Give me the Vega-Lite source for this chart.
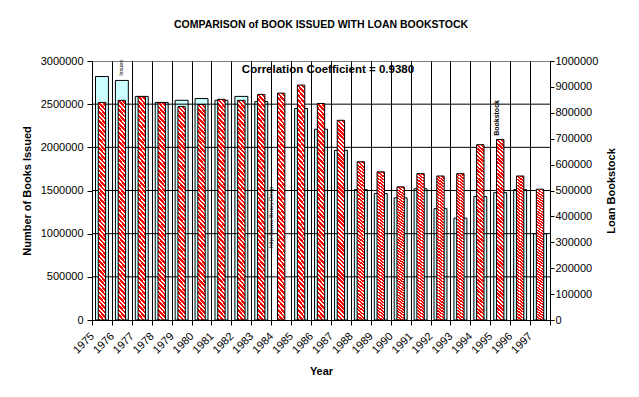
{
  "$schema": "https://vega.github.io/schema/vega-lite/v6.json",
  "width": 458,
  "height": 259,
  "autosize": {"type": "none"},
  "padding": {"left": 92, "top": 61, "right": 89, "bottom": 77},
  "background": "white",
  "title": {"text": "COMPARISON of BOOK ISSUED WITH LOAN BOOKSTOCK", "fontSize": 10.5, "fontWeight": "bold", "color": "black", "anchor": "middle", "offset": 25, "font": "Liberation Sans"},
  "config": {
    "font": "Liberation Sans",
    "view": {"stroke": "#808080"},
    "axis": {"labelFont": "Liberation Sans", "titleFont": "Liberation Sans"},
    "text": {"font": "Liberation Sans", "color": "black"}
  },
  "data": {"values": [
    {"year": 1975, "issued": 2820000, "stock": 840000},
    {"year": 1976, "issued": 2775000, "stock": 848000},
    {"year": 1977, "issued": 2590000, "stock": 863000},
    {"year": 1978, "issued": 2520000, "stock": 840000},
    {"year": 1979, "issued": 2545000, "stock": 824000},
    {"year": 1980, "issued": 2565000, "stock": 832000},
    {"year": 1981, "issued": 2545000, "stock": 852000},
    {"year": 1982, "issued": 2590000, "stock": 848000},
    {"year": 1983, "issued": 2530000, "stock": 871000},
    {"year": 1984, "issued": null, "stock": 876000},
    {"year": 1985, "issued": 2450000, "stock": 907000},
    {"year": 1986, "issued": 2210000, "stock": 836000},
    {"year": 1987, "issued": 1965000, "stock": 771000},
    {"year": 1988, "issued": 1510000, "stock": 611000},
    {"year": 1989, "issued": 1465000, "stock": 572000},
    {"year": 1990, "issued": 1415000, "stock": 514000},
    {"year": 1991, "issued": 1520000, "stock": 565000},
    {"year": 1992, "issued": 1290000, "stock": 556000},
    {"year": 1993, "issued": 1180000, "stock": 565000},
    {"year": 1994, "issued": 1430000, "stock": 677000},
    {"year": 1995, "issued": 1475000, "stock": 697000},
    {"year": 1996, "issued": 1510000, "stock": 556000},
    {"year": 1997, "issued": 1000000, "stock": 505000}
  ]},
  "layer": [
    {
      "layer": [
        {
          "mark": {"type": "bar", "fill": "#CCFFFF", "stroke": "black", "strokeWidth": 1, "width": {"band": 0.65}},
          "encoding": {
            "x": {"field": "year", "type": "ordinal", "scale": {"paddingInner": 0, "paddingOuter": 0},
              "axis": {"title": "Year", "titleFontSize": 11, "titleFontWeight": "bold", "titleColor": "black", "titlePadding": 10,
                "labelAngle": -45, "labelFontSize": 11, "labelColor": "black", "labelPadding": 5, "labelOffset": -14,
                "tickBand": "extent", "grid": true, "gridColor": "black", "gridOpacity": 1,
                "domainColor": "black", "tickColor": "black", "tickSize": 5}},
            "y": {"field": "issued", "type": "quantitative", "scale": {"domain": [0, 3000000], "nice": false},
              "axis": {"title": "Number of Books Issued", "values": [0, 500000, 1000000, 1500000, 2000000, 2500000, 3000000], "format": "d",
                "grid": false, "labelFontSize": 11, "labelColor": "black", "tickColor": "black", "domainColor": "black",
                "tickSize": 5, "labelPadding": 4, "titleFontSize": 11, "titleFontWeight": "bold", "titleColor": "black", "titlePadding": 8}}
          }
        },
        {
          "data": {"values": [{"issued": 500000}, {"issued": 1000000}, {"issued": 1500000}, {"issued": 2000000}, {"issued": 2500000}]},
          "mark": {"type": "rule", "color": "black", "strokeWidth": 1},
          "encoding": {"y": {"field": "issued", "type": "quantitative"}}
        },
        {
          "data": {"values": [{"year": 1986, "issued": 2895000, "t": "Correlation Coefficient = 0.9380"}]},
          "mark": {"type": "text", "fontSize": 11.5, "fontWeight": "bold", "align": "center", "baseline": "middle"},
          "encoding": {
            "x": {"field": "year", "type": "ordinal", "bandPosition": 0.85},
            "y": {"field": "issued", "type": "quantitative"},
            "text": {"field": "t"}
          }
        },
        {
          "data": {"values": [{"year": 1976, "issued": 2920000, "t": "Issues"}]},
          "mark": {"type": "text", "fontSize": 5.5, "angle": 270, "align": "center", "baseline": "middle"},
          "encoding": {
            "x": {"field": "year", "type": "ordinal", "bandPosition": 0.45},
            "y": {"field": "issued", "type": "quantitative"},
            "text": {"field": "t"}
          }
        },
        {
          "data": {"values": [{"year": 1983, "issued": 1190000, "t": "http://www.library.Deep"}]},
          "mark": {"type": "text", "fontSize": 6, "angle": 270, "align": "center", "baseline": "middle"},
          "encoding": {
            "x": {"field": "year", "type": "ordinal", "bandPosition": 1},
            "y": {"field": "issued", "type": "quantitative"},
            "text": {"field": "t"}
          }
        },
        {
          "data": {"values": [{"year": 1995, "issued": 2340000, "t": "Bookstock"}]},
          "mark": {"type": "text", "fontSize": 7, "fontWeight": "bold", "angle": 270, "align": "center", "baseline": "middle"},
          "encoding": {
            "x": {"field": "year", "type": "ordinal", "bandPosition": 0.34},
            "y": {"field": "issued", "type": "quantitative"},
            "text": {"field": "t"}
          }
        }
      ]
    },
    {
      "mark": {"type": "bar", "stroke": "black", "strokeWidth": 1, "width": {"band": 0.37},
        "fill": {"gradient": "linear", "x1": 0, "y1": 1, "x2": 0.0389, "y2": -0.036, "stops": [
          {"offset": 0, "color": "red"}, {"offset": 0.012, "color": "red"}, {"offset": 0.012, "color": "white"}, {"offset": 0.02, "color": "white"},
          {"offset": 0.02, "color": "red"}, {"offset": 0.032, "color": "red"}, {"offset": 0.032, "color": "white"}, {"offset": 0.04, "color": "white"},
          {"offset": 0.04, "color": "red"}, {"offset": 0.052, "color": "red"}, {"offset": 0.052, "color": "white"}, {"offset": 0.06, "color": "white"},
          {"offset": 0.06, "color": "red"}, {"offset": 0.072, "color": "red"}, {"offset": 0.072, "color": "white"}, {"offset": 0.08, "color": "white"},
          {"offset": 0.08, "color": "red"}, {"offset": 0.092, "color": "red"}, {"offset": 0.092, "color": "white"}, {"offset": 0.1, "color": "white"},
          {"offset": 0.1, "color": "red"}, {"offset": 0.112, "color": "red"}, {"offset": 0.112, "color": "white"}, {"offset": 0.12, "color": "white"},
          {"offset": 0.12, "color": "red"}, {"offset": 0.132, "color": "red"}, {"offset": 0.132, "color": "white"}, {"offset": 0.14, "color": "white"},
          {"offset": 0.14, "color": "red"}, {"offset": 0.152, "color": "red"}, {"offset": 0.152, "color": "white"}, {"offset": 0.16, "color": "white"},
          {"offset": 0.16, "color": "red"}, {"offset": 0.172, "color": "red"}, {"offset": 0.172, "color": "white"}, {"offset": 0.18, "color": "white"},
          {"offset": 0.18, "color": "red"}, {"offset": 0.192, "color": "red"}, {"offset": 0.192, "color": "white"}, {"offset": 0.2, "color": "white"},
          {"offset": 0.2, "color": "red"}, {"offset": 0.212, "color": "red"}, {"offset": 0.212, "color": "white"}, {"offset": 0.22, "color": "white"},
          {"offset": 0.22, "color": "red"}, {"offset": 0.232, "color": "red"}, {"offset": 0.232, "color": "white"}, {"offset": 0.24, "color": "white"},
          {"offset": 0.24, "color": "red"}, {"offset": 0.252, "color": "red"}, {"offset": 0.252, "color": "white"}, {"offset": 0.26, "color": "white"},
          {"offset": 0.26, "color": "red"}, {"offset": 0.272, "color": "red"}, {"offset": 0.272, "color": "white"}, {"offset": 0.28, "color": "white"},
          {"offset": 0.28, "color": "red"}, {"offset": 0.292, "color": "red"}, {"offset": 0.292, "color": "white"}, {"offset": 0.3, "color": "white"},
          {"offset": 0.3, "color": "red"}, {"offset": 0.312, "color": "red"}, {"offset": 0.312, "color": "white"}, {"offset": 0.32, "color": "white"},
          {"offset": 0.32, "color": "red"}, {"offset": 0.332, "color": "red"}, {"offset": 0.332, "color": "white"}, {"offset": 0.34, "color": "white"},
          {"offset": 0.34, "color": "red"}, {"offset": 0.352, "color": "red"}, {"offset": 0.352, "color": "white"}, {"offset": 0.36, "color": "white"},
          {"offset": 0.36, "color": "red"}, {"offset": 0.372, "color": "red"}, {"offset": 0.372, "color": "white"}, {"offset": 0.38, "color": "white"},
          {"offset": 0.38, "color": "red"}, {"offset": 0.392, "color": "red"}, {"offset": 0.392, "color": "white"}, {"offset": 0.4, "color": "white"},
          {"offset": 0.4, "color": "red"}, {"offset": 0.412, "color": "red"}, {"offset": 0.412, "color": "white"}, {"offset": 0.42, "color": "white"},
          {"offset": 0.42, "color": "red"}, {"offset": 0.432, "color": "red"}, {"offset": 0.432, "color": "white"}, {"offset": 0.44, "color": "white"},
          {"offset": 0.44, "color": "red"}, {"offset": 0.452, "color": "red"}, {"offset": 0.452, "color": "white"}, {"offset": 0.46, "color": "white"},
          {"offset": 0.46, "color": "red"}, {"offset": 0.472, "color": "red"}, {"offset": 0.472, "color": "white"}, {"offset": 0.48, "color": "white"},
          {"offset": 0.48, "color": "red"}, {"offset": 0.492, "color": "red"}, {"offset": 0.492, "color": "white"}, {"offset": 0.5, "color": "white"},
          {"offset": 0.5, "color": "red"}, {"offset": 0.512, "color": "red"}, {"offset": 0.512, "color": "white"}, {"offset": 0.52, "color": "white"},
          {"offset": 0.52, "color": "red"}, {"offset": 0.532, "color": "red"}, {"offset": 0.532, "color": "white"}, {"offset": 0.54, "color": "white"},
          {"offset": 0.54, "color": "red"}, {"offset": 0.552, "color": "red"}, {"offset": 0.552, "color": "white"}, {"offset": 0.56, "color": "white"},
          {"offset": 0.56, "color": "red"}, {"offset": 0.572, "color": "red"}, {"offset": 0.572, "color": "white"}, {"offset": 0.58, "color": "white"},
          {"offset": 0.58, "color": "red"}, {"offset": 0.592, "color": "red"}, {"offset": 0.592, "color": "white"}, {"offset": 0.6, "color": "white"},
          {"offset": 0.6, "color": "red"}, {"offset": 0.612, "color": "red"}, {"offset": 0.612, "color": "white"}, {"offset": 0.62, "color": "white"},
          {"offset": 0.62, "color": "red"}, {"offset": 0.632, "color": "red"}, {"offset": 0.632, "color": "white"}, {"offset": 0.64, "color": "white"},
          {"offset": 0.64, "color": "red"}, {"offset": 0.652, "color": "red"}, {"offset": 0.652, "color": "white"}, {"offset": 0.66, "color": "white"},
          {"offset": 0.66, "color": "red"}, {"offset": 0.672, "color": "red"}, {"offset": 0.672, "color": "white"}, {"offset": 0.68, "color": "white"},
          {"offset": 0.68, "color": "red"}, {"offset": 0.692, "color": "red"}, {"offset": 0.692, "color": "white"}, {"offset": 0.7, "color": "white"},
          {"offset": 0.7, "color": "red"}, {"offset": 0.712, "color": "red"}, {"offset": 0.712, "color": "white"}, {"offset": 0.72, "color": "white"},
          {"offset": 0.72, "color": "red"}, {"offset": 0.732, "color": "red"}, {"offset": 0.732, "color": "white"}, {"offset": 0.74, "color": "white"},
          {"offset": 0.74, "color": "red"}, {"offset": 0.752, "color": "red"}, {"offset": 0.752, "color": "white"}, {"offset": 0.76, "color": "white"},
          {"offset": 0.76, "color": "red"}, {"offset": 0.772, "color": "red"}, {"offset": 0.772, "color": "white"}, {"offset": 0.78, "color": "white"},
          {"offset": 0.78, "color": "red"}, {"offset": 0.792, "color": "red"}, {"offset": 0.792, "color": "white"}, {"offset": 0.8, "color": "white"},
          {"offset": 0.8, "color": "red"}, {"offset": 0.812, "color": "red"}, {"offset": 0.812, "color": "white"}, {"offset": 0.82, "color": "white"},
          {"offset": 0.82, "color": "red"}, {"offset": 0.832, "color": "red"}, {"offset": 0.832, "color": "white"}, {"offset": 0.84, "color": "white"},
          {"offset": 0.84, "color": "red"}, {"offset": 0.852, "color": "red"}, {"offset": 0.852, "color": "white"}, {"offset": 0.86, "color": "white"},
          {"offset": 0.86, "color": "red"}, {"offset": 0.872, "color": "red"}, {"offset": 0.872, "color": "white"}, {"offset": 0.88, "color": "white"},
          {"offset": 0.88, "color": "red"}, {"offset": 0.892, "color": "red"}, {"offset": 0.892, "color": "white"}, {"offset": 0.9, "color": "white"},
          {"offset": 0.9, "color": "red"}, {"offset": 0.912, "color": "red"}, {"offset": 0.912, "color": "white"}, {"offset": 0.92, "color": "white"},
          {"offset": 0.92, "color": "red"}, {"offset": 0.932, "color": "red"}, {"offset": 0.932, "color": "white"}, {"offset": 0.94, "color": "white"},
          {"offset": 0.94, "color": "red"}, {"offset": 0.952, "color": "red"}, {"offset": 0.952, "color": "white"}, {"offset": 0.96, "color": "white"},
          {"offset": 0.96, "color": "red"}, {"offset": 0.972, "color": "red"}, {"offset": 0.972, "color": "white"}, {"offset": 0.98, "color": "white"},
          {"offset": 0.98, "color": "red"}, {"offset": 0.992, "color": "red"}, {"offset": 0.992, "color": "white"}, {"offset": 1, "color": "white"}
        ]}},
      "encoding": {
        "x": {"field": "year", "type": "ordinal"},
        "y": {"field": "stock", "type": "quantitative", "scale": {"domain": [0, 1000000], "nice": false},
          "axis": {"orient": "right", "title": "Loan Bookstock", "titleAngle": 270, "values": [0, 100000, 200000, 300000, 400000, 500000, 600000, 700000, 800000, 900000, 1000000], "format": "d",
            "grid": false, "labelFontSize": 11, "labelColor": "black", "tickColor": "black", "domainColor": "black",
            "tickSize": 4, "labelPadding": 1, "titleFontSize": 11, "titleFontWeight": "bold", "titleColor": "black", "titlePadding": 19}}
      }
    }
  ],
  "resolve": {"scale": {"y": "independent"}}
}
